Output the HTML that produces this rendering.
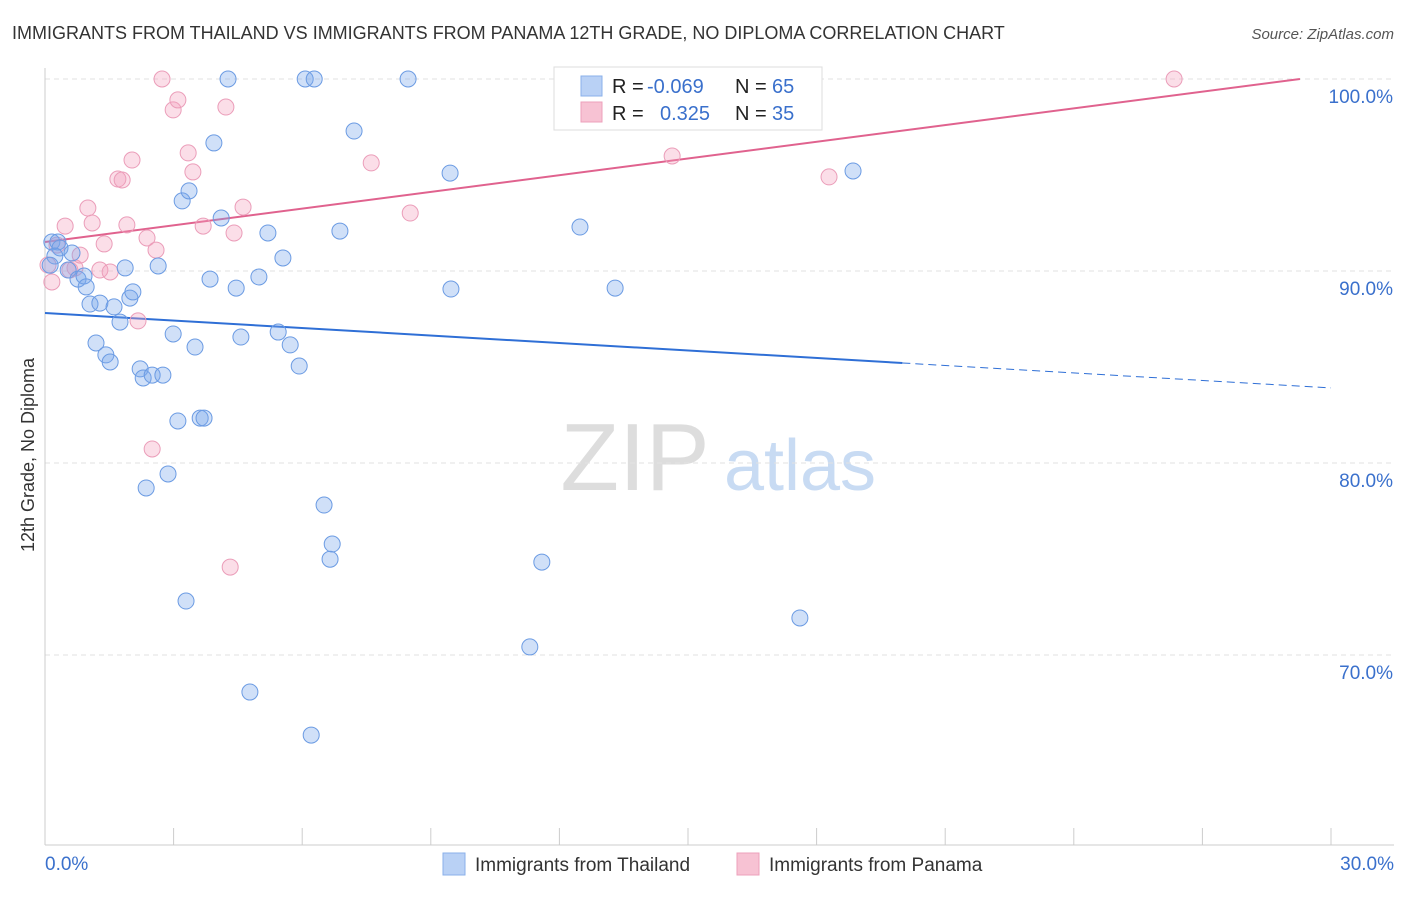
<!DOCTYPE html>
<html><head><meta charset="utf-8"><style>
body{margin:0;background:#fff;font-family:"Liberation Sans",sans-serif;}
svg text{font-family:"Liberation Sans",sans-serif;}
</style></head><body>
<svg id="chart" width="1406" height="892" xmlns="http://www.w3.org/2000/svg">
<text x="12" y="39" font-size="18" fill="#333">IMMIGRANTS FROM THAILAND VS IMMIGRANTS FROM PANAMA 12TH GRADE, NO DIPLOMA CORRELATION CHART</text>
<text x="1394" y="39" font-size="15" fill="#555" text-anchor="end" font-style="italic">Source: ZipAtlas.com</text>
<text transform="translate(34,455) rotate(-90)" font-size="18" fill="#333" text-anchor="middle">12th Grade, No Diploma</text>
<g>
<text x="635" y="490" font-size="96" fill="#ddd" font-family="Liberation Serif" text-anchor="middle" font-family="Liberation Serif,serif">ZIP</text>
<text x="800" y="490" font-size="72" fill="#c8dbf3" text-anchor="middle">atlas</text>
</g>
<g id="grid"></g><g id="axes"></g><g id="trend"></g><g id="pts"></g>
<g>
<rect x="554" y="67" width="268" height="63" fill="#fff" stroke="#ddd"/>
<rect x="581" y="76" width="21" height="20" fill="#b9d1f5" stroke="#8ab0ea"/>
<rect x="581" y="102" width="21" height="20" fill="#f7c2d3" stroke="#eea0bb"/>
<text x="612" y="93" font-size="20" fill="#222">R = </text><text x="647" y="93" font-size="20" fill="#3a70cc">-0.069</text>
<text x="735" y="93" font-size="20" fill="#222">N = </text><text x="772" y="93" font-size="20" fill="#3a70cc">65</text>
<text x="612" y="120" font-size="20" fill="#222">R = </text><text x="660" y="120" font-size="20" fill="#3a70cc">0.325</text>
<text x="735" y="120" font-size="20" fill="#222">N = </text><text x="772" y="120" font-size="20" fill="#3a70cc">35</text>
</g>
<g>
<rect x="443" y="853" width="22" height="22" fill="#b9d1f5" stroke="#8ab0ea"/>
<text x="475" y="871" font-size="19" fill="#333">Immigrants from Thailand</text>
<rect x="737" y="853" width="22" height="22" fill="#f7c2d3" stroke="#eea0bb"/>
<text x="769" y="871" font-size="19" fill="#333">Immigrants from Panama</text>
</g>
</svg>
<script>
const blueX=[0.16,0.30,0.35,0.23,0.63,0.54,0.77,0.91,0.96,1.05,1.28,1.19,1.42,1.52,1.61,1.75,1.87,1.98,2.05,2.22,2.29,2.50,2.75,2.64,2.99,3.10,3.20,3.36,3.29,2.36,2.87,3.50,3.62,3.71,3.85,3.94,4.11,4.27,4.46,4.57,4.78,4.99,5.20,5.44,5.55,5.72,5.93,6.07,6.28,6.21,6.51,6.70,6.65,6.88,7.21,8.47,9.45,9.47,11.31,11.59,12.48,13.30,17.61,18.85,0.12];
const blueY=[91.51,91.51,91.20,90.78,90.94,90.05,89.58,89.74,89.17,88.28,88.33,86.25,85.63,85.26,88.13,87.34,90.16,88.59,88.91,84.90,84.43,84.58,84.58,90.26,86.72,82.19,93.65,94.17,72.81,78.70,79.43,86.04,82.34,82.34,89.58,96.67,92.76,100,89.11,86.56,68.07,89.69,91.98,86.82,90.68,86.15,85.05,100,100,65.83,77.81,75.78,74.99,92.08,97.29,100,95.10,89.06,70.42,74.84,92.29,89.11,71.93,95.21,90.3];
const pinkX=[0.07,0.16,0.28,0.47,0.58,0.70,0.82,1.00,1.10,1.28,1.38,1.52,1.70,1.80,1.91,2.03,2.17,2.38,2.50,2.59,2.73,2.99,3.10,3.34,3.45,3.69,4.22,4.41,4.32,4.62,7.61,8.52,12.85,14.63,18.29,26.34];
const pinkY=[90.31,89.43,91.35,92.34,90.05,90.16,90.83,93.28,92.50,90.05,91.41,89.95,94.79,94.74,92.40,95.78,87.40,91.72,80.73,91.09,100,98.39,98.91,96.15,95.16,92.34,98.54,91.98,74.58,93.33,95.63,93.02,98.33,95.99,94.90,100];
const blueTrend=[87.81,-0.13];
const pinkTrend=[91.51,0.29];
const yTicks=[100,90,80,70];
const xTicks=[0,3,6,9,12,15,18,21,24,27,30];
const NS='http://www.w3.org/2000/svg';
const sx=v=>45+v/30*1286, sy=v=>79+(100-v)*19.2;
function mk(p,t,a){const e=document.createElementNS(NS,t);for(const k in a)e.setAttribute(k,a[k]);document.getElementById(p).appendChild(e);return e;}
yTicks.forEach(t=>{
 const l=mk('grid','line',{x1:45,x2:1394,y1:sy(t),y2:sy(t),stroke:'#e2e2e2','stroke-dasharray':'5,4'});
 
 
 const tx=mk('grid','text',{x:1393,y:sy(t)+24,'font-size':19,fill:'#3a70cc','text-anchor':'end'});
 tx.textContent=t.toFixed(1)+'%';
 
 
});
let a=mk('axes','line',{x1:45,x2:45,y1:68,y2:845,stroke:'#ccc'});


a=mk('axes','line',{x1:45,x2:1394,y1:845,y2:845,stroke:'#ccc'});


xTicks.forEach(t=>{const l=mk('axes','line',{x1:sx(t),x2:sx(t),y1:828,y2:845,stroke:'#ccc'});
 
 });
let t0=mk('axes','text',{x:45,y:870,'font-size':19,fill:'#3a70cc'});t0.textContent='0.0%';


let t1=mk('axes','text',{x:1394,y:870,'font-size':19,fill:'#3a70cc','text-anchor':'end'});t1.textContent='30.0%';


const bf=x=>blueTrend[0]+blueTrend[1]*x, pf=x=>pinkTrend[0]+pinkTrend[1]*x;
let b1=mk('trend','line',{x1:sx(0),y1:sy(bf(0)),x2:sx(20),y2:sy(bf(20)),stroke:'#2f6fd6','stroke-width':2});


let b2=mk('trend','line',{x1:sx(20),y1:sy(bf(20)),x2:sx(30),y2:sy(bf(30)),stroke:'#2f6fd6','stroke-width':1,'stroke-dasharray':'8,5'});


const pe=Math.min(30,(100-pinkTrend[0])/pinkTrend[1]);
let p1=mk('trend','line',{x1:sx(0),y1:sy(pf(0)),x2:sx(pe),y2:sy(pf(pe)),stroke:'#e0628e','stroke-width':2});


pinkX.forEach((x,i)=>{const c=mk('pts','circle',{cx:sx(x),cy:sy(pinkY[i]),r:8,fill:'rgba(244,160,190,0.35)',stroke:'#eb9db9','stroke-width':1});
 
 });
blueX.forEach((x,i)=>{const c=mk('pts','circle',{cx:sx(x),cy:sy(blueY[i]),r:8,fill:'rgba(120,165,235,0.35)',stroke:'#6b9be3','stroke-width':1});
 
 });
</script>
</body></html>
